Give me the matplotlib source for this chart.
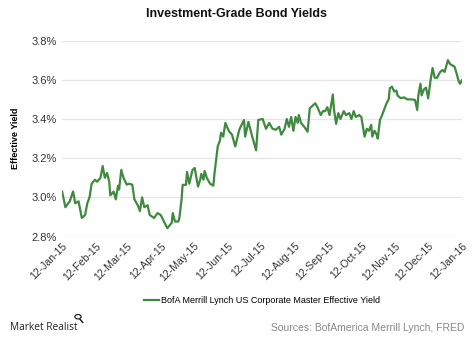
import numpy as np
import pandas as pd
import matplotlib
matplotlib.use("Agg")
import matplotlib.pyplot as plt
from matplotlib.patches import Circle
from matplotlib.lines import Line2D

plt.rcParams["font.family"] = ["Liberation Sans", "DejaVu Sans"]

# ------------------------------------------------------------------ #
# Data: BofA Merrill Lynch US Corporate Master Effective Yield (%)
# days counted from 12-Jan-2015
# ------------------------------------------------------------------ #
start = pd.Timestamp("2015-01-12")

days = [0, 3, 7, 10, 12, 15, 18, 21, 23, 25, 27, 30, 32, 35, 37, 39, 41, 43, 44, 47,
        49, 51, 52, 54, 56, 59, 61, 64, 66, 69, 71, 73, 75, 78, 80, 84, 87, 90, 93, 96,
        100, 101, 103, 106, 107, 109, 110, 113, 114, 116, 119, 121, 124, 126, 127, 129, 130, 132, 135, 138,
        139, 142, 144, 145, 147, 149, 152, 155, 158, 161, 162, 166, 167, 170, 173, 177, 179, 183, 186, 189,
        192, 195, 198, 200, 203, 205, 207, 209, 211, 213, 215, 216, 218, 221, 224, 226, 229, 231, 233, 236,
        238, 240, 242, 244, 247, 248, 250, 252, 254, 257, 259, 262, 264, 266, 268, 271, 273, 276, 278, 280,
        282, 283, 285, 287, 288, 290, 292, 294, 296, 298, 299, 301, 303, 305, 306, 309, 312, 315, 319, 322,
        324, 325, 327, 328, 330, 332, 334, 336, 338, 340, 342, 345, 347, 349, 352, 354, 358, 359, 362, 363,
        365, 366]

yields = [3.03, 2.95, 2.98, 3.03, 2.97, 2.98, 2.895, 2.91, 2.97, 3.00, 3.07, 3.09, 3.08, 3.10, 3.16, 3.10, 3.125, 3.08, 3.01, 3.03,
          2.99, 3.06, 3.04, 3.14, 3.10, 3.065, 3.07, 3.065, 2.99, 2.96, 2.93, 3.00, 2.95, 2.96, 2.91, 2.895, 2.92, 2.91, 2.877, 2.843,
          2.87, 2.92, 2.877, 2.877, 2.895, 2.99, 3.064, 3.064, 3.13, 3.07, 3.14, 3.15, 3.055, 3.09, 3.12, 3.09, 3.135, 3.10, 3.07, 3.06,
          3.12, 3.26, 3.29, 3.33, 3.31, 3.38, 3.34, 3.32, 3.26, 3.33, 3.35, 3.395, 3.31, 3.385, 3.32, 3.24, 3.395, 3.40, 3.35, 3.38,
          3.35, 3.345, 3.36, 3.32, 3.35, 3.40, 3.36, 3.41, 3.34, 3.41, 3.38, 3.42, 3.38, 3.36, 3.335, 3.455, 3.47, 3.48, 3.46, 3.42,
          3.44, 3.44, 3.46, 3.42, 3.525, 3.45, 3.375, 3.43, 3.40, 3.44, 3.42, 3.43, 3.40, 3.44, 3.41, 3.42, 3.41, 3.31, 3.35, 3.34,
          3.37, 3.31, 3.34, 3.32, 3.30, 3.395, 3.42, 3.45, 3.48, 3.50, 3.557, 3.565, 3.54, 3.545, 3.52, 3.506, 3.51, 3.50, 3.50, 3.497,
          3.446, 3.52, 3.58, 3.52, 3.55, 3.56, 3.505, 3.59, 3.66, 3.61, 3.61, 3.64, 3.65, 3.64, 3.70, 3.68, 3.667, 3.65, 3.59, 3.58,
          3.60, 3.575]

tick_dates = pd.date_range("2015-01-01", "2016-01-01", freq="MS") + pd.Timedelta(days=11)
tick_labels = [d.strftime("%d-%b-%y") for d in tick_dates]
y_ticks = [2.8, 3.0, 3.2, 3.4, 3.6, 3.8]

dates = start + pd.to_timedelta(days, unit="D")

# ------------------------------------------------------------------ #
fig = plt.figure(figsize=(4.74, 3.38), dpi=100)
ax = fig.add_axes([0.131, 0.300, 0.844, 0.580])

ax.plot(dates, yields, color="#3f8a3f", linewidth=1.6,
        label="BofA Merrill Lynch US Corporate Master Effective Yield")

ax.set_ylim(2.8, 3.8)
ax.set_yticks(y_ticks)
ax.set_yticklabels(["%.1f%%" % v for v in y_ticks])
ax.set_xlim(tick_dates[0], tick_dates[-1])
ax.set_xticks(tick_dates)
ax.set_xticklabels(tick_labels, rotation=45, ha="right", rotation_mode="anchor")

ax.grid(axis="y", color="#e6e6e6", linewidth=0.9)
ax.set_axisbelow(True)
for s in ax.spines.values():
    s.set_visible(False)
ax.tick_params(length=0, labelsize=8, colors="#333333", pad=4)
ax.tick_params(axis="x", labelsize=7.5, pad=3)

ax.set_ylabel("Effective Yield", fontsize=6.5, fontweight="bold", labelpad=8)

fig.text(0.5, 0.96, "Investment-Grade Bond Yields", ha="center", va="center",
         fontsize=9, fontweight="bold", color="#111111")

ax.legend(loc="center", bbox_to_anchor=(0.5, -0.325), frameon=False,
          fontsize=6.5, handlelength=1.6, handletextpad=0.2)

# footer
fig.text(0.022, 0.03, "Market Realist", fontsize=7.3, color="#222222",
         family=["Open Sans", "DejaVu Sans"], va="center")
# small magnifier mark next to the brand name
fig.patches.append(Circle((0.1645, 0.063), 0.0065, transform=fig.transFigure,
                          fill=False, edgecolor="#222222", linewidth=0.9))
fig.lines.append(Line2D([0.169, 0.1745], [0.055, 0.046], transform=fig.transFigure,
                        color="#222222", linewidth=1.1))

fig.text(0.98, 0.03, "Sources: BofAmerica Merrill Lynch, FRED", ha="right", va="center",
         fontsize=7.5, color="#888888")

plt.savefig("out.png", dpi=100)
